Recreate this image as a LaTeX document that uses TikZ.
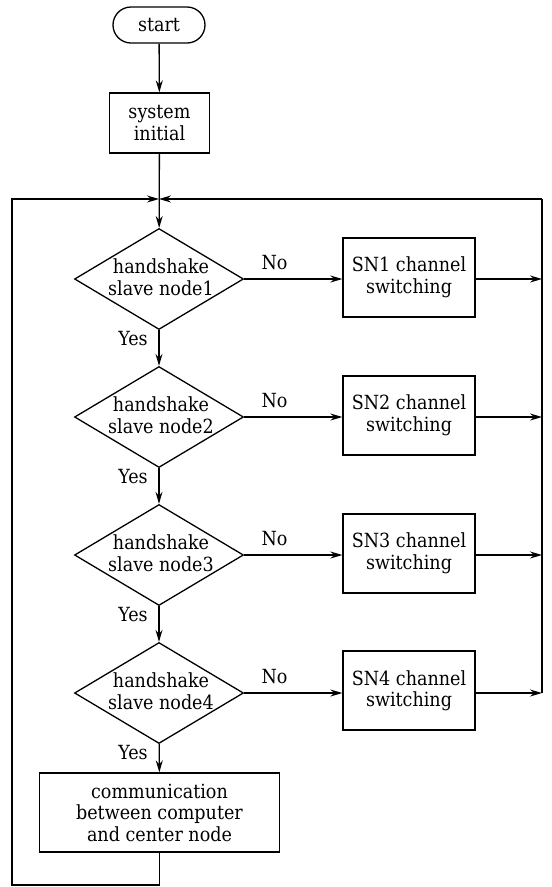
\documentclass[tikz,border=0pt]{standalone}
\usepackage{fontspec}
\setmainfont{DejaVu Serif}[FakeStretch=0.9]
\usetikzlibrary{shapes.geometric,arrows.meta}
\tikzset{
  term/.style={draw, rounded corners=18pt, minimum width=92pt, minimum height=36pt, inner sep=0pt},
  proc/.style={draw, rectangle, align=center, inner sep=0pt},
  snbox/.style={proc, minimum width=132pt, minimum height=79pt},
  dec/.style={draw, diamond, aspect=1.67, minimum width=169pt, minimum height=101pt, inner sep=0pt},
  lbl/.style={align=center, inner sep=0pt},
  flow/.style={-{Stealth[length=12pt,width=7pt,inset=4pt]}},
}
\begin{document}
\begin{tikzpicture}[x=1pt,y=-1pt,line width=1.3pt,font=\fontsize{19.5}{21.5}\selectfont]
\useasboundingbox (0,0) rectangle (552,887);
\node[term] (start) at (159,25) {start};
\node[proc, minimum width=100pt, minimum height=60pt] (init) at (159.5,123) {system\\initial};
\coordinate (join) at (159,199);
\coordinate (lt) at (12,199);
\coordinate (lb) at (12,885);
\coordinate (rt) at (542,199);
\coordinate (rb) at (542,693);

\node[dec] (d1) at (159,279) {};
\node[lbl] (t1) at (161,277) {handshake\\slave node1};
\node[dec] (d2) at (159,417) {};
\node[lbl] (t2) at (161,415) {handshake\\slave node2};
\node[dec] (d3) at (159,555) {};
\node[lbl] (t3) at (161,553) {handshake\\slave node3};
\node[dec] (d4) at (159,693) {};
\node[lbl] (t4) at (161,691) {handshake\\slave node4};

\node[snbox] (s1) at (409,277.5) {SN1 channel\\switching};
\node[snbox] (s2) at (409,415.5) {SN2 channel\\switching};
\node[snbox] (s3) at (409,553.5) {SN3 channel\\switching};
\node[snbox] (s4) at (409,690.5) {SN4 channel\\switching};

\node[proc, minimum width=240pt, minimum height=79pt] (comm) at (159.5,812.5) {communication\\between computer\\and center node};

\node[lbl] (no1) at (274.5,263) {No};
\node[lbl] (no2) at (274.5,401) {No};
\node[lbl] (no3) at (274.5,539) {No};
\node[lbl] (no4) at (274.5,677) {No};
\node[lbl] (yes1) at (133,339) {Yes};
\node[lbl] (yes2) at (133,477) {Yes};
\node[lbl] (yes3) at (133,615) {Yes};
\node[lbl] (yes4) at (133,753) {Yes};

\draw[flow] (start) -- (init);
\draw[flow] (init) -- (d1);
\draw[flow] (d1) -- (d2);
\draw[flow] (d2) -- (d3);
\draw[flow] (d3) -- (d4);
\draw[flow] (d4) -- (comm);

\draw[flow] (d1.east) -- (s1.west |- d1.east);
\draw[flow] (d2.east) -- (s2.west |- d2.east);
\draw[flow] (d3.east) -- (s3.west |- d3.east);
\draw[flow] (d4.east) -- (s4.west |- d4.east);

\draw[flow] (s1.east |- d1.east) -- (rb |- d1.east);
\draw[flow] (s2.east |- d2.east) -- (rb |- d2.east);
\draw[flow] (s3.east |- d3.east) -- (rb |- d3.east);
\draw[flow] (s4.east |- d4.east) -- (rb |- d4.east);

\draw (rb) -- (rt);
\draw[flow] (rt) -- (join);
\draw[flow] (comm.south) -- (comm.south |- lb) -- (lb) -- (lt) -- (join);
\end{tikzpicture}
\end{document}
